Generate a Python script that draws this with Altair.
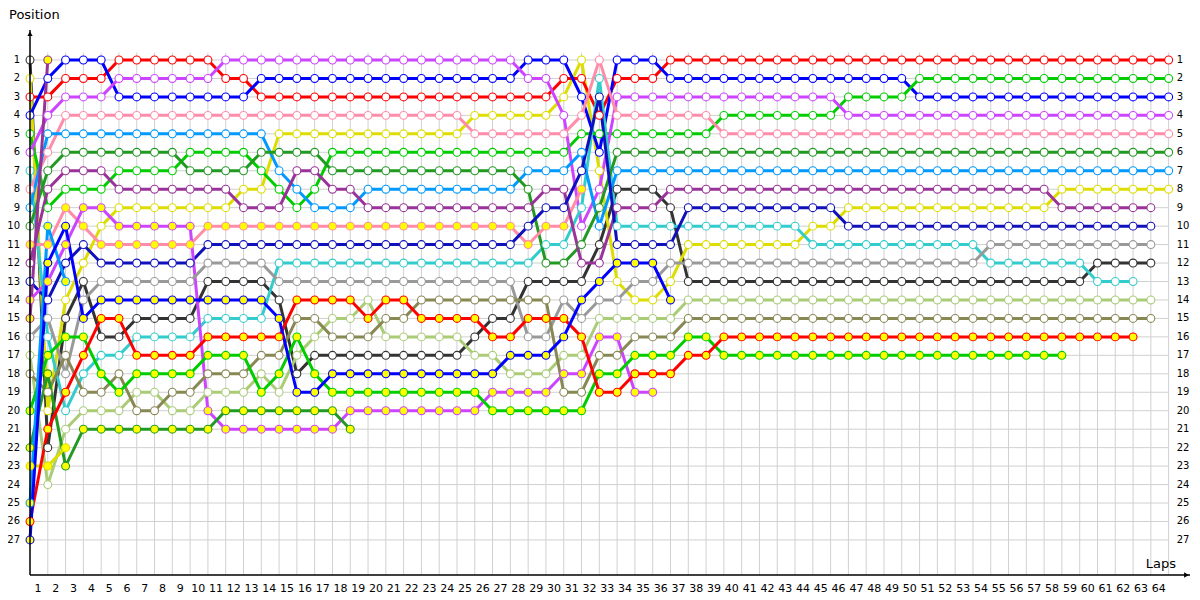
import altair as alt
import pandas as pd

# ---- data: running order per lap (position 1 first), "_" = empty slot ----
running_order = [
    "K1 Y1 R1 B1 G1 V1 C1 P1 LB1 DG1 P2 PU1 N1 V2 PU2 GR1 LO1 O1 _ G2 _ DG2 Y2 _ LB2 R2 B2",  # 0
    "PU2 B1 R1 V1 LB1 P1 DG1 PU1 G1 LB2 P2 B2 V2 N1 GR1 C1 G2 DG2 O1 Y1 R2 K1 Y2 LO1",       # 1
    "B1 R1 V1 P1 LB1 DG1 PU1 G1 P2 B2 V2 N1 LB2 Y1 K1 G2 O1 GR1 R2 C1 LO1 Y2 DG2",           # 2
    "B1 R1 V1 P1 LB1 DG1 PU1 G1 V2 P2 N1 Y1 K1 GR1 B2 G2 R2 C1 O1 LO1 DG2",                  # 3
    "B1 R1 V1 P1 LB1 DG1 PU1 G1 V2 Y1 P2 N1 GR1 B2 R2 K1 C1 G2 O1 LO1 DG2",                  # 4
    "R1 V1 B1 P1 LB1 DG1 G1 PU1 Y1 V2 P2 N1 GR1 B2 R2 K1 C1 O1 G2 LO1 DG2",                  # 5
    "R1 V1 B1 P1 LB1 DG1 G1 PU1 Y1 V2 P2 N1 GR1 B2 K1 C1 R2 G2 LO1 O1 DG2",                  # 6
    "R1 V1 B1 P1 LB1 DG1 G1 PU1 Y1 V2 P2 N1 GR1 B2 K1 C1 R2 G2 LO1 O1 DG2",                  # 7
    "R1 V1 B1 P1 LB1 DG1 G1 PU1 Y1 V2 P2 N1 GR1 B2 K1 C1 R2 G2 O1 LO1 DG2",                  # 8
    "R1 V1 B1 P1 LB1 G1 DG1 PU1 Y1 V2 P2 N1 GR1 B2 K1 C1 R2 G2 O1 LO1 DG2",                  # 9
    "R1 V1 B1 P1 LB1 G1 DG1 PU1 Y1 P2 N1 GR1 K1 B2 C1 R2 G2 O1 LO1 V2 DG2",                  # 10
    "V1 R1 B1 P1 LB1 G1 DG1 PU1 Y1 P2 N1 GR1 K1 B2 C1 R2 G2 O1 LO1 DG2 V2",                  # 11
    "V1 R1 B1 P1 LB1 G1 DG1 Y1 PU1 P2 N1 GR1 K1 B2 C1 R2 G2 O1 LO1 DG2 V2",                  # 12
    "V1 B1 R1 P1 LB1 DG1 G1 Y1 PU1 P2 N1 GR1 K1 B2 C1 R2 O1 LO1 G2 DG2 V2",                  # 13
    "V1 B1 R1 P1 Y1 DG1 LB1 G1 PU1 P2 N1 C1 GR1 K1 B2 R2 O1 G2 LO1 DG2 V2",                  # 14
    "V1 B1 R1 P1 Y1 DG1 PU1 LB1 G1 P2 N1 C1 GR1 R2 O1 G2 LO1 K1 B2 DG2 V2",                  # 15
    "V1 B1 R1 P1 Y1 DG1 PU1 G1 LB1 P2 N1 C1 GR1 R2 O1 LO1 K1 G2 B2 DG2 V2",                  # 16
    "V1 B1 R1 P1 Y1 G1 DG1 PU1 LB1 P2 N1 C1 GR1 R2 LO1 O1 K1 B2 G2 DG2 V2",                  # 17
    "V1 B1 R1 P1 Y1 G1 DG1 PU1 LB1 P2 N1 C1 GR1 R2 LO1 O1 K1 B2 G2 V2 DG2",                  # 18
    "V1 B1 R1 P1 Y1 G1 DG1 LB1 PU1 P2 N1 C1 GR1 LO1 R2 O1 K1 B2 G2 V2",                      # 19
    "V1 B1 R1 P1 Y1 G1 DG1 LB1 PU1 P2 N1 C1 GR1 R2 O1 LO1 K1 B2 G2 V2",                      # 20
    "V1 B1 R1 P1 Y1 G1 DG1 LB1 PU1 P2 N1 C1 GR1 R2 O1 LO1 K1 B2 G2 V2",                      # 21
    "V1 B1 R1 P1 Y1 G1 DG1 LB1 PU1 P2 N1 C1 GR1 O1 R2 LO1 K1 B2 G2 V2",                      # 22
    "V1 B1 R1 P1 Y1 G1 DG1 LB1 PU1 P2 N1 C1 GR1 O1 R2 LO1 K1 B2 G2 V2",                      # 23
    "V1 B1 R1 P1 Y1 G1 DG1 LB1 PU1 P2 N1 C1 GR1 O1 R2 LO1 K1 B2 G2 V2",                      # 24
    "V1 B1 R1 Y1 P1 G1 DG1 LB1 PU1 P2 N1 C1 GR1 O1 R2 K1 LO1 B2 G2 V2",                      # 25
    "V1 B1 R1 Y1 P1 G1 DG1 LB1 PU1 P2 N1 C1 GR1 O1 K1 R2 LO1 B2 V2 G2",                      # 26
    "V1 B1 R1 Y1 P1 G1 DG1 LB1 PU1 P2 N1 C1 GR1 O1 K1 R2 B2 LO1 V2 G2",                      # 27
    "B1 V1 R1 Y1 P1 G1 LB1 DG1 PU1 N1 P2 C1 K1 O1 R2 GR1 B2 LO1 V2 G2",                      # 28
    "B1 V1 R1 Y1 P1 G1 LB1 PU1 N1 P2 C1 DG1 K1 O1 R2 GR1 B2 LO1 V2 G2",                      # 29
    "B1 R1 Y1 V1 P1 G1 LB1 PU1 N1 P2 C1 DG1 K1 GR1 R2 B2 LO1 V2 O1 G2",                      # 30
    "Y1 R1 B1 P1 G1 LB1 N1 P2 C1 V1 DG1 PU1 K1 B2 GR1 R2 LO1 V2 O1 G2",                      # 31
    "P1 C1 N1 R1 G1 B1 Y1 V1 DG1 LB1 K1 PU1 B2 GR1 LO1 V2 O1 G2 R2",                         # 32
    "B1 R1 V1 P1 G1 DG1 LB1 K1 PU1 C1 N1 B2 Y1 GR1 LO1 V2 O1 G2 R2",                         # 33
    "B1 R1 V1 P1 G1 DG1 LB1 K1 PU1 C1 N1 B2 GR1 Y1 LO1 O1 G2 R2 V2",                         # 34
    "B1 R1 V1 P1 G1 DG1 LB1 K1 PU1 C1 N1 B2 GR1 Y1 LO1 O1 G2 R2 V2",                         # 35
    "R1 B1 V1 P1 G1 DG1 LB1 PU1 K1 C1 N1 GR1 Y1 B2 LO1 O1 G2 R2",                            # 36
    "R1 B1 V1 P1 G1 DG1 LB1 PU1 N1 C1 Y1 GR1 K1 LO1 O1 G2 R2",                               # 37
    "R1 B1 V1 P1 G1 DG1 LB1 PU1 N1 C1 Y1 GR1 K1 LO1 O1 G2 R2",                               # 38
    "R1 B1 V1 G1 P1 DG1 LB1 PU1 N1 C1 Y1 GR1 K1 LO1 O1 R2 G2",                               # 39
    "R1 B1 V1 G1 P1 DG1 LB1 PU1 N1 C1 Y1 GR1 K1 LO1 O1 R2 G2",                               # 40
    "R1 B1 V1 G1 P1 DG1 LB1 PU1 N1 C1 Y1 GR1 K1 LO1 O1 R2 G2",                               # 41
    "R1 B1 V1 G1 P1 DG1 LB1 PU1 N1 C1 Y1 GR1 K1 LO1 O1 R2 G2",                               # 42
    "R1 B1 V1 G1 P1 DG1 LB1 PU1 N1 C1 Y1 GR1 K1 LO1 O1 R2 G2",                               # 43
    "R1 B1 V1 G1 P1 DG1 LB1 PU1 N1 Y1 C1 GR1 K1 LO1 O1 R2 G2",                               # 44
    "R1 B1 V1 G1 P1 DG1 LB1 PU1 N1 Y1 C1 GR1 K1 LO1 O1 R2 G2",                               # 45
    "R1 B1 G1 V1 P1 DG1 LB1 PU1 Y1 N1 C1 GR1 K1 LO1 O1 R2 G2",                               # 46
    "R1 B1 G1 V1 P1 DG1 LB1 PU1 Y1 N1 C1 GR1 K1 LO1 O1 R2 G2",                               # 47
    "R1 B1 G1 V1 P1 DG1 LB1 PU1 Y1 N1 C1 GR1 K1 LO1 O1 R2 G2",                               # 48
    "R1 B1 G1 V1 P1 DG1 LB1 PU1 Y1 N1 C1 GR1 K1 LO1 O1 R2 G2",                               # 49
    "R1 G1 B1 V1 P1 DG1 LB1 PU1 Y1 N1 C1 GR1 K1 LO1 O1 R2 G2",                               # 50
    "R1 G1 B1 V1 P1 DG1 LB1 PU1 Y1 N1 C1 GR1 K1 LO1 O1 R2 G2",                               # 51
    "R1 G1 B1 V1 P1 DG1 LB1 PU1 Y1 N1 C1 GR1 K1 LO1 O1 R2 G2",                               # 52
    "R1 G1 B1 V1 P1 DG1 LB1 PU1 Y1 N1 C1 GR1 K1 LO1 O1 R2 G2",                               # 53
    "R1 G1 B1 V1 P1 DG1 LB1 PU1 Y1 N1 GR1 C1 K1 LO1 O1 R2 G2",                               # 54
    "R1 G1 B1 V1 P1 DG1 LB1 PU1 Y1 N1 GR1 C1 K1 LO1 O1 R2 G2",                               # 55
    "R1 G1 B1 V1 P1 DG1 LB1 PU1 Y1 N1 GR1 C1 K1 LO1 O1 R2 G2",                               # 56
    "R1 G1 B1 V1 P1 DG1 LB1 PU1 Y1 N1 GR1 C1 K1 LO1 O1 R2 G2",                               # 57
    "R1 G1 B1 V1 P1 DG1 LB1 Y1 PU1 N1 GR1 C1 K1 LO1 O1 R2 G2",                               # 58
    "R1 G1 B1 V1 P1 DG1 LB1 Y1 PU1 N1 GR1 C1 K1 LO1 O1 R2",                                  # 59
    "R1 G1 B1 V1 P1 DG1 LB1 Y1 PU1 N1 GR1 K1 C1 LO1 O1 R2",                                  # 60
    "R1 G1 B1 V1 P1 DG1 LB1 Y1 PU1 N1 GR1 K1 C1 LO1 O1 R2",                                  # 61
    "R1 G1 B1 V1 P1 DG1 LB1 Y1 PU1 N1 GR1 K1 C1 LO1 O1 R2",                                  # 62
    "R1 G1 B1 V1 P1 DG1 LB1 Y1 PU1 N1 GR1 K1 _ LO1 O1",                                      # 63
    "R1 G1 B1 V1 P1 DG1 LB1 Y1",                                                             # 64
]

drivers = ["R1", "R2", "G1", "G2", "B1", "B2", "V1", "V2", "P1", "P2",
           "DG1", "DG2", "LB1", "LB2", "Y1", "Y2", "PU1", "PU2", "N1",
           "C1", "GR1", "K1", "LO1", "O1"]
driver_colors = ["#ff0000", "#ff0000", "#00cc00", "#00cc00", "#0000ff", "#0000ff",
                 "#cc44ff", "#cc44ff", "#ff8ca8", "#ff8ca8", "#229922", "#229922",
                 "#0099ff", "#0099ff", "#dddd00", "#dddd00", "#993399", "#993399",
                 "#1111bb", "#33cccc", "#999999", "#333333", "#aacc77", "#888855"]
laps = list(range(1, 65))
positions = list(range(1, 28))

rows = []
for lap, order in enumerate(running_order):
    for idx, code in enumerate(order.split()):
        if code != "_":
            rows.append({"driver": code, "lap": lap, "pos": idx + 1,
                         "fillc": "#ffffff" if code.endswith("1") else "#ffff00"})
df = pd.DataFrame(rows)

XMAX = 65.2
YTOP = -0.625
YBOT = 28.9
FONT = "DejaVu Sans"


def xsc():
    return alt.Scale(domain=[0, XMAX], nice=False, zero=False)


def ysc():
    return alt.Scale(domain=[YTOP, YBOT], nice=False, zero=False, reverse=True)


cs = alt.Scale(domain=drivers, range=driver_colors)

lap_df = pd.DataFrame({"lap": laps})
pos_df = pd.DataFrame({"pos": positions})
one = pd.DataFrame({"a": [0]})

vgrid = alt.Chart(lap_df).transform_calculate(
    y0=f"{0.6}", y1=f"{YBOT}").mark_rule(color="#d0d0d0", strokeWidth=1).encode(
    x=alt.X("lap:Q", scale=xsc(), axis=None),
    y=alt.Y("y0:Q", scale=ysc(), axis=None), y2="y1:Q")
hgrid = alt.Chart(pos_df).transform_calculate(
    x0="0", x1="64").mark_rule(color="#d0d0d0", strokeWidth=1).encode(
    y=alt.Y("pos:Q", scale=ysc(), axis=None),
    x=alt.X("x0:Q", scale=xsc(), axis=None), x2="x1:Q")

xaxis = alt.Chart(one).transform_calculate(
    x0="0", x1=f"{XMAX}", y0=f"{YBOT}").mark_rule(color="black", strokeWidth=1.5).encode(
    x=alt.X("x0:Q", scale=xsc(), axis=None), x2="x1:Q",
    y=alt.Y("y0:Q", scale=ysc(), axis=None))
yaxis = alt.Chart(one).transform_calculate(
    x0="0", y0=f"{YTOP}", y1=f"{YBOT}").mark_rule(color="black", strokeWidth=1.5).encode(
    x=alt.X("x0:Q", scale=xsc(), axis=None),
    y=alt.Y("y0:Q", scale=ysc(), axis=None), y2="y1:Q")
arrow_up = alt.Chart(one).transform_calculate(
    x0="0", y0=f"{YTOP + 0.2}").mark_point(
    shape="triangle-up", filled=True, color="black", size=28, opacity=1).encode(
    x=alt.X("x0:Q", scale=xsc(), axis=None), y=alt.Y("y0:Q", scale=ysc(), axis=None))
arrow_right = alt.Chart(one).transform_calculate(
    x0=f"{XMAX - 0.2}", y0=f"{YBOT}").mark_point(
    shape="triangle-right", filled=True, color="black", size=28, opacity=1).encode(
    x=alt.X("x0:Q", scale=xsc(), axis=None), y=alt.Y("y0:Q", scale=ysc(), axis=None))

xlabels = alt.Chart(lap_df).transform_calculate(
    xl="datum.lap - 0.55", y0=f"{YBOT}").mark_text(
    font=FONT, fontSize=11, color="black", baseline="middle", dy=14).encode(
    x=alt.X("xl:Q", scale=xsc(), axis=None), y=alt.Y("y0:Q", scale=ysc(), axis=None),
    text="lap:Q")
ylabels_left = alt.Chart(pos_df).transform_calculate(x0="0").mark_text(
    font=FONT, fontSize=10, color="black", align="right", baseline="middle", dx=-10).encode(
    x=alt.X("x0:Q", scale=xsc(), axis=None), y=alt.Y("pos:Q", scale=ysc(), axis=None),
    text="pos:Q")
ylabels_right = alt.Chart(pos_df).transform_calculate(x0="64").mark_text(
    font=FONT, fontSize=10, color="black", align="left", baseline="middle", dx=8).encode(
    x=alt.X("x0:Q", scale=xsc(), axis=None), y=alt.Y("pos:Q", scale=ysc(), axis=None),
    text="pos:Q")

title_pos = alt.Chart(one).transform_calculate(
    x0="0", y0=f"{YTOP}", t="'Position'").mark_text(
    font=FONT, fontSize=13, color="black", align="left", baseline="middle",
    dx=-21, dy=-15).encode(
    x=alt.X("x0:Q", scale=xsc(), axis=None), y=alt.Y("y0:Q", scale=ysc(), axis=None),
    text="t:N")
title_laps = alt.Chart(one).transform_calculate(
    x0=f"{XMAX}", y0=f"{YBOT}", t="'Laps'").mark_text(
    font=FONT, fontSize=13, color="black", align="right", baseline="middle",
    dx=-14, dy=-11).encode(
    x=alt.X("x0:Q", scale=xsc(), axis=None), y=alt.Y("y0:Q", scale=ysc(), axis=None),
    text="t:N")

lines = alt.Chart(df).mark_line(strokeWidth=3).encode(
    x=alt.X("lap:Q", scale=xsc(), axis=None), y=alt.Y("pos:Q", scale=ysc(), axis=None),
    color=alt.Color("driver:N", scale=cs, legend=None),
    order="lap:Q")
points = alt.Chart(df).mark_point(shape="circle", filled=True, size=62, strokeWidth=1.1,
                                  opacity=1).encode(
    x=alt.X("lap:Q", scale=xsc(), axis=None), y=alt.Y("pos:Q", scale=ysc(), axis=None),
    fill=alt.Fill("fillc:N", scale=None),
    stroke=alt.Stroke("driver:N", scale=cs, legend=None))

chart = alt.layer(vgrid, hgrid, lines, points, xaxis, yaxis, arrow_up, arrow_right,
                  xlabels, ylabels_left, ylabels_right, title_pos, title_laps).properties(
    width=1160, height=545,
    autosize=alt.AutoSizeParams(type="none"),
    padding={"left": 22, "top": 22, "right": 2, "bottom": 25},
    background="white",
).configure_view(stroke=None)

chart.save("out.html", embed_options={"renderer": "svg", "actions": False})
